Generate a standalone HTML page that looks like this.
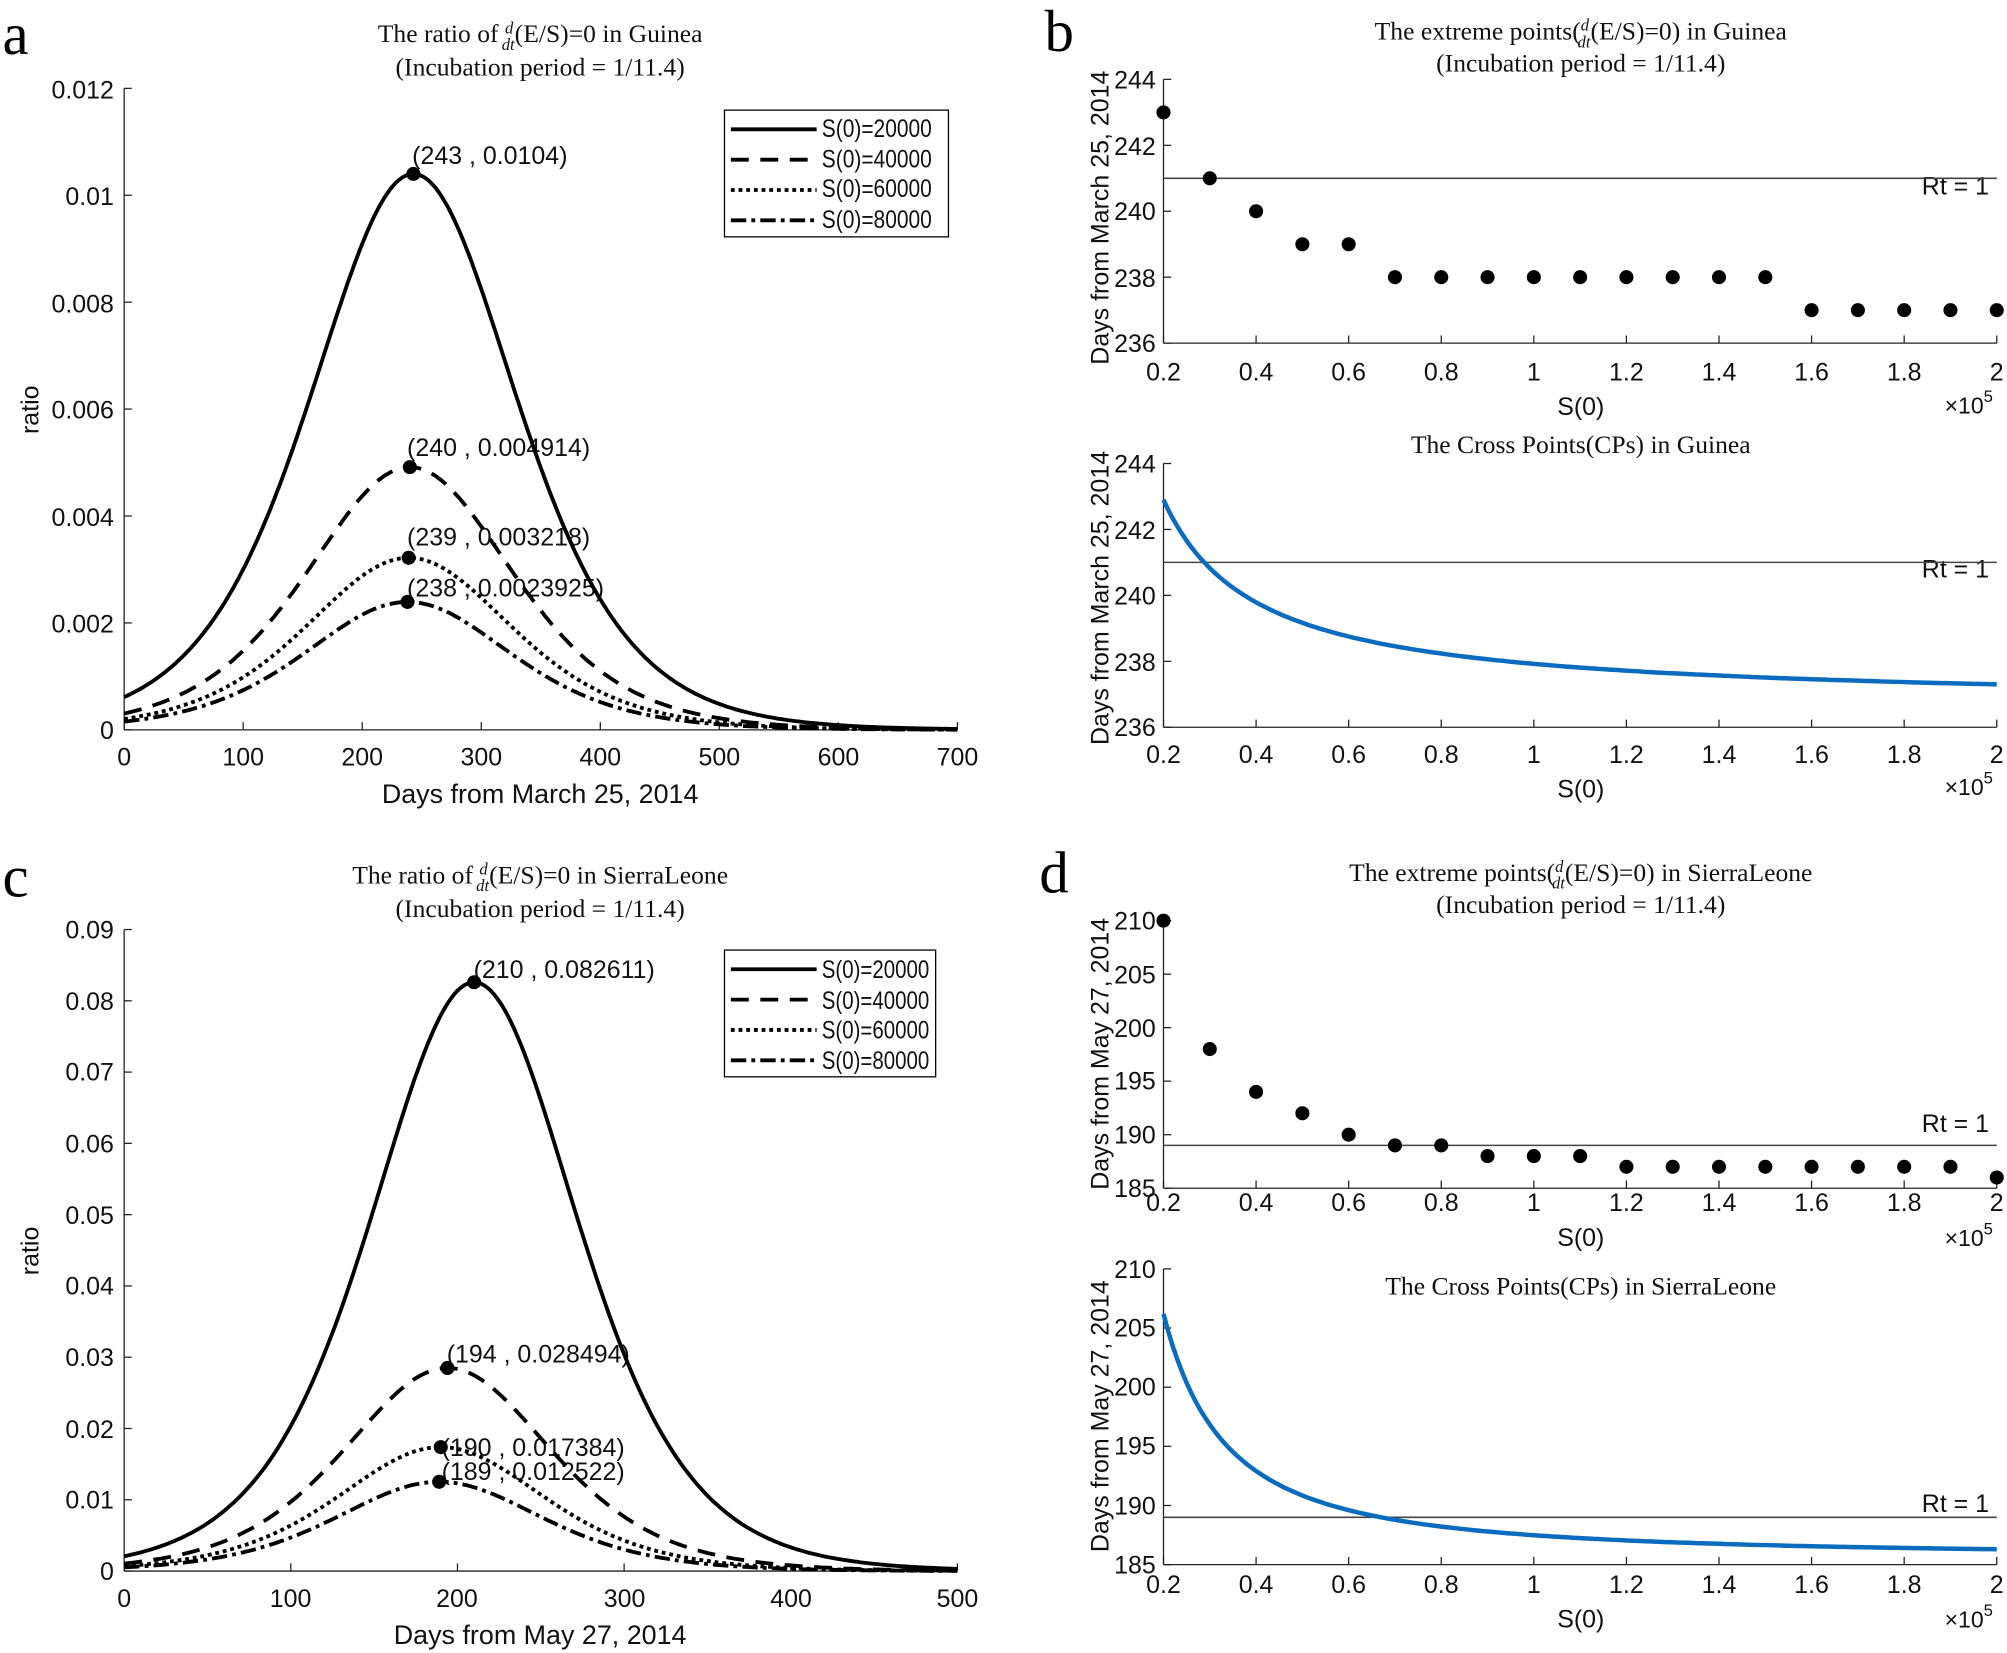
<!DOCTYPE html>
<html><head><meta charset="utf-8"><style>
html,body{margin:0;padding:0;background:#fff;}
svg{display:block;}
.t{font-family:"Liberation Sans",sans-serif;font-size:19.5px;fill:#111;}
.s{font-family:"Liberation Serif",serif;font-size:20px;fill:#111;}
.L{font-family:"Liberation Serif",serif;font-size:46px;fill:#000;}
</style></head><body>
<svg id="g" width="2007" height="1653" viewBox="0 0 1568 1291" preserveAspectRatio="none" xmlns="http://www.w3.org/2000/svg">
<rect width="1568" height="1291" fill="#fff"/>
<text class="L" x="2" y="42">a</text>
<text class="L" x="816" y="40">b</text>
<text class="L" x="2" y="700">c</text>
<text class="L" x="812" y="697">d</text>

<text class="s" x="422" y="33" text-anchor="middle">The ratio of <tspan font-size="13" font-style="italic" dy="-7">d</tspan><tspan font-size="13" font-style="italic" dx="-9" dy="13">dt</tspan><tspan dy="-6">(E/S)=0 in Guinea</tspan></text>
<text class="s" x="422" y="59" text-anchor="middle">(Incubation period = 1/11.4)</text>
<text class="s" x="422" y="690" text-anchor="middle">The ratio of <tspan font-size="13" font-style="italic" dy="-7">d</tspan><tspan font-size="13" font-style="italic" dx="-9" dy="13">dt</tspan><tspan dy="-6">(E/S)=0 in SierraLeone</tspan></text>
<text class="s" x="422" y="716" text-anchor="middle">(Incubation period = 1/11.4)</text>
<text class="s" x="1235" y="31" text-anchor="middle">The extreme points(<tspan font-size="13" font-style="italic" dy="-7">d</tspan><tspan font-size="13" font-style="italic" dx="-9" dy="13">dt</tspan><tspan dy="-6">(E/S)=0) in Guinea</tspan></text>
<text class="s" x="1235" y="56" text-anchor="middle">(Incubation period = 1/11.4)</text>
<text class="s" x="1235" y="354" text-anchor="middle">The Cross Points(CPs) in Guinea</text>
<text class="s" x="1235" y="688" text-anchor="middle">The extreme points(<tspan font-size="13" font-style="italic" dy="-7">d</tspan><tspan font-size="13" font-style="italic" dx="-9" dy="13">dt</tspan><tspan dy="-6">(E/S)=0) in SierraLeone</tspan></text>
<text class="s" x="1235" y="713" text-anchor="middle">(Incubation period = 1/11.4)</text>
<text class="s" x="1235" y="1011" text-anchor="middle">The Cross Points(CPs) in SierraLeone</text>

<g class="t" text-anchor="end">
<text x="89" y="77">0.012</text><text x="89" y="160">0.01</text><text x="89" y="244">0.008</text>
<text x="89" y="327">0.006</text><text x="89" y="411">0.004</text><text x="89" y="494">0.002</text><text x="89" y="577">0</text>
</g>
<g class="t" text-anchor="middle">
<text x="97" y="598">0</text><text x="190" y="598">100</text><text x="283" y="598">200</text><text x="376" y="598">300</text>
<text x="469" y="598">400</text><text x="562" y="598">500</text><text x="655" y="598">600</text><text x="748" y="598">700</text>
<text x="422" y="627" font-size="21">Days from March 25, 2014</text>
</g>
<text class="t" font-size="21" transform="translate(30,320) rotate(-90)" text-anchor="middle">ratio</text>

<g class="t" text-anchor="end">
<text x="89" y="733">0.09</text><text x="89" y="789">0.08</text><text x="89" y="844">0.07</text><text x="89" y="900">0.06</text>
<text x="89" y="956">0.05</text><text x="89" y="1011">0.04</text><text x="89" y="1067">0.03</text><text x="89" y="1123">0.02</text>
<text x="89" y="1178">0.01</text><text x="89" y="1234">0</text>
</g>
<g class="t" text-anchor="middle">
<text x="97" y="1255">0</text><text x="227" y="1255">100</text><text x="357" y="1255">200</text><text x="488" y="1255">300</text>
<text x="618" y="1255">400</text><text x="748" y="1255">500</text>
<text x="422" y="1284" font-size="21">Days from May 27, 2014</text>
</g>
<text class="t" font-size="21" transform="translate(30,977) rotate(-90)" text-anchor="middle">ratio</text>

<g class="t" font-size="19">
<text x="322" y="128">(243 , 0.0104)</text>
<text x="318" y="356">(240 , 0.004914)</text>
<text x="318" y="426">(239 , 0.003218)</text>
<text x="318" y="466">(238 , 0.0023925)</text>
<text x="370" y="764">(210 , 0.082611)</text>
<text x="349" y="1064">(194 , 0.028494)</text>
<text x="345" y="1137">(190 , 0.017384)</text>
<text x="345" y="1156">(189 , 0.012522)</text>
</g>

<rect x="566" y="86" width="175" height="99" fill="#fff" stroke="#000" stroke-width="1"/>
<rect x="566" y="742" width="165" height="99" fill="#fff" stroke="#000" stroke-width="1"/>
<g class="t" font-size="16.5">
<text x="642" y="107" textLength="86" lengthAdjust="spacingAndGlyphs">S(0)=20000</text><text x="642" y="131" textLength="86" lengthAdjust="spacingAndGlyphs">S(0)=40000</text><text x="642" y="154" textLength="86" lengthAdjust="spacingAndGlyphs">S(0)=60000</text><text x="642" y="178" textLength="86" lengthAdjust="spacingAndGlyphs">S(0)=80000</text>
<text x="642" y="764" textLength="84" lengthAdjust="spacingAndGlyphs">S(0)=20000</text><text x="642" y="788" textLength="84" lengthAdjust="spacingAndGlyphs">S(0)=40000</text><text x="642" y="811" textLength="84" lengthAdjust="spacingAndGlyphs">S(0)=60000</text><text x="642" y="835" textLength="84" lengthAdjust="spacingAndGlyphs">S(0)=80000</text>
</g>

<g class="t" text-anchor="end">
<text x="903" y="69">244</text><text x="903" y="121">242</text><text x="903" y="172">240</text><text x="903" y="224">238</text><text x="903" y="275">236</text>
<text x="903" y="369">244</text><text x="903" y="421">242</text><text x="903" y="472">240</text><text x="903" y="524">238</text><text x="903" y="575">236</text>
<text x="903" y="726">210</text><text x="903" y="768">205</text><text x="903" y="810">200</text><text x="903" y="851">195</text><text x="903" y="893">190</text><text x="903" y="935">185</text>
<text x="903" y="998">210</text><text x="903" y="1044">205</text><text x="903" y="1090">200</text><text x="903" y="1136">195</text><text x="903" y="1183">190</text><text x="903" y="1229">185</text>
</g>
<g id="xl" class="t" text-anchor="middle"></g>
<g class="t" font-size="21" text-anchor="middle">
<text x="1235" y="324">S(0)</text><text x="1235" y="623">S(0)</text><text x="1235" y="973">S(0)</text><text x="1235" y="1271">S(0)</text>
<text transform="translate(866,170) rotate(-90)">Days from March 25, 2014</text>
<text transform="translate(866,467) rotate(-90)">Days from March 25, 2014</text>
<text transform="translate(866,823) rotate(-90)">Days from May 27, 2014</text>
<text transform="translate(866,1106) rotate(-90)">Days from May 27, 2014</text>
</g>
<g class="t" text-anchor="end">
<text x="1557" y="323" font-size="18">×10<tspan font-size="13" dy="-9">5</tspan></text>
<text x="1557" y="621" font-size="18">×10<tspan font-size="13" dy="-9">5</tspan></text>
<text x="1557" y="973" font-size="18">×10<tspan font-size="13" dy="-9">5</tspan></text>
<text x="1557" y="1271" font-size="18">×10<tspan font-size="13" dy="-9">5</tspan></text>
<text x="1554" y="152">Rt = 1</text><text x="1554" y="451">Rt = 1</text>
<text x="1554" y="884">Rt = 1</text><text x="1554" y="1181">Rt = 1</text>
</g>
<g id="dyn"></g>
</svg>
<script>
var NS="http://www.w3.org/2000/svg",D=document.getElementById("dyn");
function el(t,a,p){var e=document.createElementNS(NS,t);for(var k in a)e.setAttribute(k,a[k]);(p||D).appendChild(e);return e;}
function line(x1,y1,x2,y2,w){el("line",{x1:x1,y1:y1,x2:x2,y2:y2,stroke:"#222","stroke-width":w||1});}
function axes(x0,x1,y0,y1,xt,yt){line(x0,y0,x1,y0);line(x0,y0,x0,y1);
 xt.forEach(function(x){line(x,y0,x,y0-6)});yt.forEach(function(y){line(x0,y,x0+6,y)});}
var dash=["","14,9","3,3","12,4,3,4"];
function sech2(u){var c=Math.cosh(u);return 1/(c*c);}
var ax=[],ay=[];for(var i=0;i<=7;i++)ax.push(97+i*93);for(i=0;i<=6;i++)ay.push(570-i*83.5);
axes(97,748,570,69,ax,ay);
var pa=[[243,0.0104],[240,0.004914],[239,0.003218],[238,0.0023925]];
pa.forEach(function(p,k){var d="";for(var t=0;t<=700;t+=2){var v=p[1]*sech2((t-p[0])/116);
 d+=(t?"L":"M")+(97+t*651/700).toFixed(1)+","+(570-v*501/0.012).toFixed(1);}
 el("path",{d:d,fill:"none",stroke:"#000","stroke-width":3,"stroke-dasharray":dash[k]});
 el("circle",{cx:97+p[0]*651/700,cy:570-p[1]*501/0.012,r:5.5,fill:"#000"});
 var ly=101+k*23.7;el("line",{x1:571,y1:ly,x2:638,y2:ly,stroke:"#000","stroke-width":3,"stroke-dasharray":dash[k]});});
var cx=[],cy=[];for(i=0;i<=5;i++)cx.push(97+i*130.2);for(i=0;i<=9;i++)cy.push(1227-i*55.67);
axes(97,748,1227,726,cx,cy);
var pc=[[210,0.082611],[194,0.028494],[190,0.017384],[189,0.012522]];
pc.forEach(function(p,k){var d="";for(var t=0;t<=500;t+=2){var v=p[1]*sech2((t-p[0])/83);
 d+=(t?"L":"M")+(97+t*651/500).toFixed(1)+","+(1227-v*501/0.09).toFixed(1);}
 el("path",{d:d,fill:"none",stroke:"#000","stroke-width":3,"stroke-dasharray":dash[k]});
 el("circle",{cx:97+p[0]*651/500,cy:1227-p[1]*501/0.09,r:5.5,fill:"#000"});
 var ly=757+k*23.7;el("line",{x1:571,y1:ly,x2:638,y2:ly,stroke:"#000","stroke-width":3,"stroke-dasharray":dash[k]});});
function X(s){return 909+(s-0.2)*651/1.8;}
var xt=[];for(i=0;i<=9;i++)xt.push(X(0.2+i*0.2));
var XL=document.getElementById("xl");
var labs=["0.2","0.4","0.6","0.8","1","1.2","1.4","1.6","1.8","2"];
[297,596,946,1244].forEach(function(yy){labs.forEach(function(s,j){var t=el("text",{x:xt[j],y:yy},XL);t.textContent=s;});});
function rp(y0,yb,lo,hi,yt,rt,pts,curve){var f=function(v){return yb-(v-lo)*(yb-y0)/(hi-lo);};
 axes(909,1560,yb,y0,xt,yt.map(f));
 el("line",{x1:909,y1:f(rt),x2:1560,y2:f(rt),stroke:"#444","stroke-width":1.2});
 if(pts)pts.forEach(function(v,j){el("circle",{cx:X(0.2+j*0.1),cy:f(v),r:5.5,fill:"#000"});});
 if(curve){var d="";for(var s=0.2;s<=2.0001;s+=0.01)d+=(s<0.2001?"M":"L")+X(s).toFixed(1)+","+f(curve(s)).toFixed(1);
  el("path",{d:d,fill:"none",stroke:"#0b6bbf","stroke-width":3.5});}}
rp(62,268,236,244,[236,238,240,242,244],241,[243,241,240,239,239,238,238,238,238,238,238,238,238,238,237,237,237,237,237],null);
rp(362,568,236,244,[236,238,240,242,244],241,null,function(s){return 236.68+1.244/s;});
rp(719,928,185,210,[185,190,195,200,205,210],189,[210,198,194,192,190,189,189,188,188,188,187,187,187,187,187,187,187,187,186],null);
rp(991,1222,185,210,[185,190,195,200,205,210],189,null,function(s){return 185.65+1.838/Math.pow(s,1.5);});
</script>
</body></html>
